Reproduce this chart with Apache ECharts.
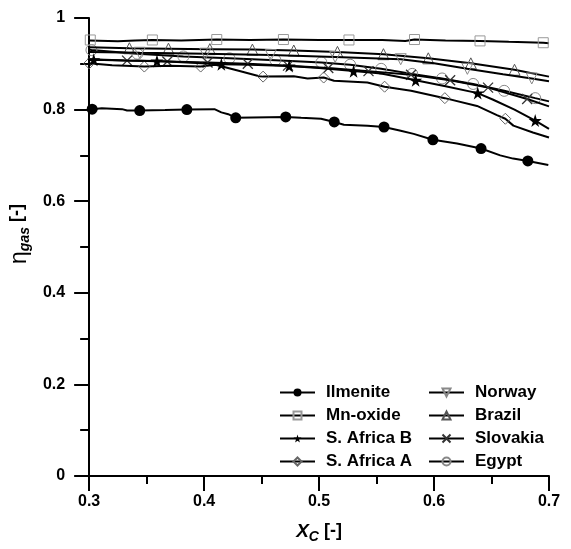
<!DOCTYPE html>
<html><head><meta charset="utf-8">
<script src="https://cdn.jsdelivr.net/npm/echarts@6/dist/echarts.min.js"></script>
<style>html,body{margin:0;padding:0;background:#fff}#c{width:571px;height:549px}</style>
</head><body><div id="c"></div>
<script>
// ---- data (x = X_C, y = eta_gas) ----
var seriesNames = ['Ilmenite','Mn-oxide','S. Africa B','S. Africa A','Norway','Brazil','Slovakia','Egypt'];
var xTicks = [0.3,0.4,0.5,0.6,0.7];
var yTicks = [0,0.2,0.4,0.6,0.8,1];

var ilmeniteMarks = [[0.3026,0.801],[0.344,0.798],[0.385,0.800],[0.4275,0.782],[0.471,0.784],[0.5132,0.773],[0.5565,0.762],[0.599,0.734],[0.6409,0.715],[0.6816,0.688]];
var ilmeniteLine = [[0.3,0.802],[0.311,0.803],[0.3286,0.801],[0.333,0.798],[0.366,0.799],[0.409,0.801],[0.415,0.794],[0.421,0.790],[0.4844,0.782],[0.5017,0.780],[0.5216,0.767],[0.5422,0.765],[0.571,0.754],[0.5823,0.747],[0.620,0.726],[0.6576,0.700],[0.6688,0.693],[0.6994,0.679]];

var mnoxideMarks = [[0.301,0.952],[0.355,0.952],[0.411,0.953],[0.469,0.953],[0.526,0.952],[0.583,0.953],[0.640,0.950],[0.695,0.946]];
var mnoxideLine = [[0.3,0.951],[0.325,0.949],[0.34,0.951],[0.38,0.951],[0.44,0.952],[0.50,0.952],[0.555,0.952],[0.575,0.950],[0.61,0.951],[0.665,0.948],[0.7,0.945]];

var saBMarks = [[0.304,0.909],[0.359,0.906],[0.415,0.899],[0.474,0.895],[0.530,0.884],[0.584,0.864],[0.638,0.836],[0.688,0.776]];
var saBLine = [[0.3,0.908],[0.33,0.907],[0.385,0.903],[0.44,0.898],[0.50,0.891],[0.554,0.879],[0.61,0.851],[0.651,0.822],[0.67,0.800],[0.7,0.758]];

var saAMarks = [[0.300,0.901],[0.348,0.894],[0.397,0.894],[0.4513,0.872],[0.504,0.870],[0.557,0.850],[0.6094,0.825],[0.662,0.780]];
var saALine = [[0.32,0.897],[0.37,0.896],[0.41,0.898],[0.43,0.885],[0.448,0.873],[0.478,0.873],[0.49,0.868],[0.513,0.863],[0.542,0.859],[0.58,0.841],[0.6374,0.808],[0.6547,0.788],[0.669,0.765],[0.686,0.750],[0.7,0.739]];

var norwayMarks = [[0.344,0.924],[0.401,0.922],[0.458,0.919],[0.514,0.915],[0.571,0.910],[0.629,0.889],[0.685,0.868]];
var norwayLine = [[0.3,0.926],[0.6,0.901],[0.66,0.877],[0.7,0.862]];

var brazilMarks = [[0.335,0.934],[0.369,0.933],[0.405,0.932],[0.442,0.931],[0.478,0.929],[0.516,0.926],[0.556,0.921],[0.595,0.912],[0.632,0.901],[0.670,0.887]];
var brazilLine = [[0.3,0.936],[0.7,0.872]];

var slovakiaMarks = [[0.333,0.907],[0.368,0.905],[0.403,0.903],[0.438,0.900],[0.473,0.896],[0.508,0.891],[0.543,0.884],[0.580,0.876],[0.614,0.864],[0.647,0.848],[0.681,0.823]];
var slovakiaLine = [[0.3,0.910],[0.7,0.807]];

var egyptMarks = [[0.302,0.930],[0.342,0.922],[0.382,0.916],[0.422,0.912],[0.462,0.908],[0.502,0.903],[0.527,0.898],[0.554,0.889],[0.581,0.878],[0.607,0.868],[0.634,0.856],[0.661,0.841],[0.688,0.825]];
var egyptLine = [[0.3,0.931],[0.7,0.818]];

// ---- build ----
function merge(line, marks) {
  var pts = [];
  line.forEach(function (p) { pts.push({value: [p[0], p[1]], m: 0}); });
  marks.forEach(function (p) { pts.push({value: [p[0], p[1]], m: 1}); });
  pts.sort(function (a, b) { return a.value[0] - b.value[0]; });
  return pts.map(function (p) { var o = {value: p.value}; if (!p.m) o.symbol = 'none'; return o; });
}
var STAR = 'path://M50,0L61,35L98,35L68,57L79,91L50,70L21,91L32,57L2,35L39,35Z';
var CROSS = 'path://M0,0L10,10M10,0L0,10';
var TDOWN = 'path://M0,0L10,0L5,8.7Z';
var TUP = 'path://M5,0L10,8.7L0,8.7Z';
var hollow = function (c) { return {color: 'rgba(0,0,0,0)', borderColor: c, borderWidth: 1}; };
var styles = [
  {symbol: 'circle', size: 11, item: {color: '#000'}},
  {symbol: 'rect', size: 10, item: hollow('#999')},
  {symbol: STAR, size: 13, item: {color: '#000'}},
  {symbol: 'diamond', size: 11, item: hollow('#666')},
  {symbol: TDOWN, size: 11, item: hollow('#888')},
  {symbol: TUP, size: 11, item: hollow('#555')},
  {symbol: CROSS, size: 10, item: {color: 'rgba(0,0,0,0)', borderColor: '#333', borderWidth: 1.3}},
  {symbol: 'circle', size: 11, item: hollow('#888')}
];
var lines = [ilmeniteLine, mnoxideLine, saBLine, saALine, norwayLine, brazilLine, slovakiaLine, egyptLine];
var marks = [ilmeniteMarks, mnoxideMarks, saBMarks, saAMarks, norwayMarks, brazilMarks, slovakiaMarks, egyptMarks];

var series = seriesNames.map(function (n, i) {
  return {
    name: n, type: 'line', data: merge(lines[i], marks[i]),
    symbol: styles[i].symbol, symbolSize: styles[i].size,
    showSymbol: true, showAllSymbol: true,
    itemStyle: styles[i].item,
    lineStyle: {color: '#000', width: 2},
    z: 2 + (8 - i) / 10
  };
});

var FONT = '"Liberation Sans", Arial, sans-serif';
var legendBase = {
  orient: 'vertical', itemWidth: 35, itemHeight: 10, itemGap: 6, padding: 0,
  textStyle: {fontFamily: FONT, fontWeight: 'bold', fontSize: 17, color: '#000', lineHeight: 17, padding: [0, 0, 0, 6]},
  inactiveColor: '#000'
};
var option = {
  animation: false,
  backgroundColor: '#fff',
  grid: {left: 87, right: 22, top: 18, bottom: 68},
  legend: [
    Object.assign({}, legendBase, {left: 279, top: 384, data: seriesNames.slice(0, 4)}),
    Object.assign({}, legendBase, {left: 428, top: 384, data: seriesNames.slice(4)})
  ],
  xAxis: {
    type: 'value', min: xTicks[0], max: xTicks[xTicks.length - 1], interval: 0.1,
    axisLine: {show: true, onZero: false, lineStyle: {color: '#000', width: 2}},
    axisTick: {show: true, inside: false, length: 15, lineStyle: {color: '#000', width: 2}},
    minorTick: {show: true, splitNumber: 2, length: 8, lineStyle: {color: '#000', width: 2}},
    splitLine: {show: false},
    axisLabel: {margin: 18, fontFamily: FONT, fontWeight: 'bold', fontSize: 16, color: '#000',
      formatter: function (v) { return v.toFixed(1); }},
    name: '{i|X}{s|C}{b| [-]}', nameLocation: 'middle', nameGap: 46,
    nameTextStyle: {rich: {
      i: {fontFamily: FONT, fontWeight: 'bold', fontStyle: 'italic', fontSize: 19, color: '#000', lineHeight: 22, verticalAlign: 'top'},
      s: {fontFamily: FONT, fontWeight: 'bold', fontStyle: 'italic', fontSize: 14, color: '#000', lineHeight: 22, verticalAlign: 'bottom', padding: [6, 0, 0, 0]},
      b: {fontFamily: FONT, fontWeight: 'bold', fontSize: 18, color: '#000', lineHeight: 22, verticalAlign: 'top'}
    }}
  },
  yAxis: {
    type: 'value', min: yTicks[0], max: yTicks[yTicks.length - 1], interval: 0.2,
    axisLine: {show: true, onZero: false, lineStyle: {color: '#000', width: 2}},
    axisTick: {show: true, inside: false, length: 15, lineStyle: {color: '#000', width: 2}},
    minorTick: {show: true, splitNumber: 2, length: 9, lineStyle: {color: '#000', width: 2}},
    splitLine: {show: false},
    axisLabel: {margin: 24, fontFamily: FONT, fontWeight: 'bold', fontSize: 16, color: '#000',
      formatter: function (v) { return (v === 0 || v === 1) ? String(v) : v.toFixed(1); }},
    name: '{e|\u03b7}{s|gas}{b| [-]}', nameLocation: 'middle', nameGap: 48, nameRotate: 90,
    nameTextStyle: {padding: [0, 0, 0, 26], rich: {
      e: {fontFamily: FONT, fontSize: 23, color: '#000', lineHeight: 24, verticalAlign: 'top'},
      s: {fontFamily: FONT, fontWeight: 'bold', fontStyle: 'italic', fontSize: 14, color: '#000', lineHeight: 24, verticalAlign: 'bottom'},
      b: {fontFamily: FONT, fontWeight: 'bold', fontSize: 18, color: '#000', lineHeight: 24, verticalAlign: 'top'}
    }}
  },
  series: series
};
echarts.init(document.getElementById('c')).setOption(option);
</script>
</body></html>
